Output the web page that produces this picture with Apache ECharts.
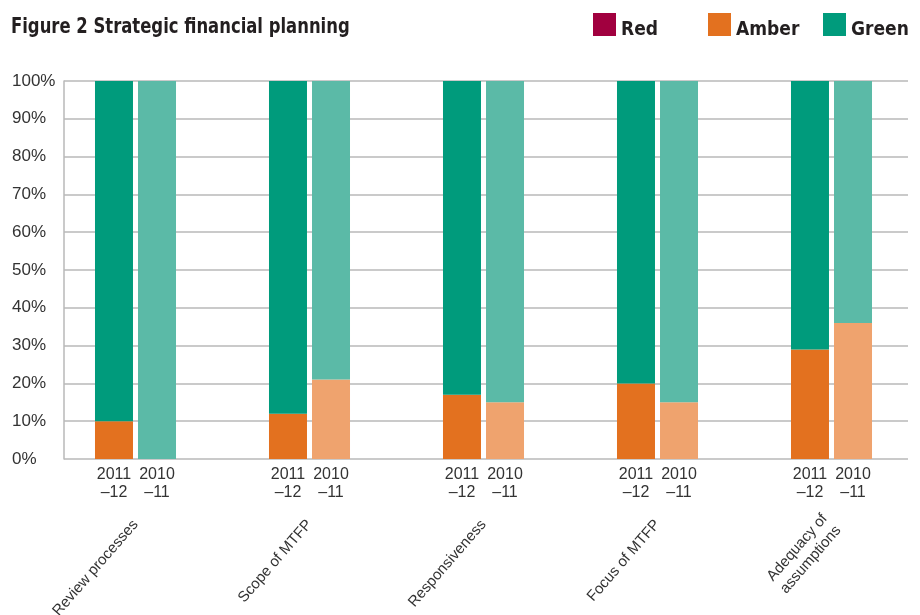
<!DOCTYPE html>
<html><head><meta charset="utf-8">
<script src="https://cdn.jsdelivr.net/npm/echarts@6/dist/echarts.min.js"></script>
<style>html,body{margin:0;padding:0;background:#fff}#c{width:920px;height:615px}</style>
</head><body><div id="c"></div>
<script>
const categories = ['Review processes', 'Scope of MTFP', 'Responsiveness', 'Focus of MTFP', 'Adequacy of\nassumptions'];
const amber2011 = [10, 12, 17, 20, 29];
const green2011 = [90, 88, 83, 80, 71];
const amber2010 = [0, 21, 15, 15, 36];
const green2010 = [100, 79, 85, 85, 64];
const red = [];
const yearTop = ['2011', '2010'];
const yearBottom = ['–12', '–11'];
const yTicks = [0, 10, 20, 30, 40, 50, 60, 70, 80, 90, 100];

const C = {
  red: '#A1003F', amber: '#E3711F', amberLight: '#EFA36E',
  green: '#009B7C', greenLight: '#5BBAA7', grid: '#B8B8B8', text: '#333333', dark: '#231F20'
};
const bodyFont = 'Liberation Sans, Arial, sans-serif';
const headFont = '"Liberation Sans Narrow", "DejaVu Sans Condensed", "Liberation Sans", sans-serif';

const chart = echarts.init(document.getElementById('c'), null, {renderer: 'canvas'});
const bw = 38;
const yearLabel = '{a|' + yearTop[0] + '}{b|' + yearTop[1] + '}\n{a|' + yearBottom[0] + '}{b|' + yearBottom[1] + '}';
const yStyle = {fontSize: 16, fontFamily: bodyFont, color: C.text, width: 43, align: 'center', lineHeight: 18};

function legendAt(left, name) {
  return {
    data: [name], left: left, top: 13, padding: 0, itemWidth: 23, itemHeight: 23, itemGap: 0,
    icon: 'rect', selectedMode: false,
    formatter: n => '{t|' + n + '}',
    textStyle: {fontSize: 19, fontWeight: 'bold', fontFamily: headFont, color: C.dark,
      rich: {t: {fontSize: 19, fontWeight: 'bold', fontFamily: headFont, color: C.dark, padding: [11, 0, 0, 0]}}}
  };
}

chart.setOption({
  animation: false,
  graphic: [{
    type: 'text', left: 11, top: 17, scaleX: 0.87,
    style: {text: 'Figure 2 Strategic financial planning', fontSize: 21, fontWeight: 'bold', fontFamily: headFont, fill: C.dark}
  }],
  legend: [legendAt(593, 'Red'), legendAt(708, 'Amber'), legendAt(823, 'Green')],
  grid: [
    {left: 64, right: 12, top: 81, bottom: 156, outerBoundsMode: 'none', containLabel: false},
    {left: 48.5, width: 870, top: 81, bottom: 156, outerBoundsMode: 'none', containLabel: false}
  ],
  xAxis: [
    {type: 'category', gridIndex: 0, data: categories, axisLine: {show: false}, axisTick: {show: false}, axisLabel: {show: false}},
    {type: 'category', gridIndex: 1, data: categories, axisLine: {show: false}, axisTick: {show: false},
      axisLabel: {margin: 7, formatter: () => yearLabel, rich: {a: yStyle, b: yStyle}}},
    {type: 'category', gridIndex: 1, data: categories, position: 'bottom', axisLine: {show: false}, axisTick: {show: false},
      axisLabel: {rotate: 49, margin: 63, fontSize: 15, lineHeight: 18, fontFamily: bodyFont, color: C.text}}
  ],
  yAxis: [
    {type: 'value', gridIndex: 0, min: 0, max: 100, interval: 10,
      axisLine: {show: true, lineStyle: {color: C.grid, width: 1.5}}, axisTick: {show: false},
      splitLine: {lineStyle: {color: C.grid, width: 1.5}},
      axisLabel: {formatter: v => yTicks.includes(v) ? v + '%' : '', align: 'left', margin: 52, padding: [0, 0, 12, 0],
        fontSize: 17, fontFamily: bodyFont, color: C.text}},
    {type: 'value', gridIndex: 1, min: 0, max: 100, interval: 10, show: false, splitLine: {show: false}}
  ],
  series: [
    {name: 'Red', type: 'bar', xAxisIndex: 0, yAxisIndex: 0, data: red, itemStyle: {color: C.red}},
    {name: 'Amber', type: 'bar', xAxisIndex: 1, yAxisIndex: 1, stack: 's2011', data: amber2011, barWidth: bw, barGap: '13.2%', itemStyle: {color: C.amber}},
    {name: 'Green', type: 'bar', xAxisIndex: 1, yAxisIndex: 1, stack: 's2011', data: green2011, barWidth: bw, barGap: '13.2%', itemStyle: {color: C.green}},
    {name: 'Amber 2010–11', type: 'bar', xAxisIndex: 1, yAxisIndex: 1, stack: 's2010', data: amber2010, barWidth: bw, barGap: '13.2%', itemStyle: {color: C.amberLight}},
    {name: 'Green 2010–11', type: 'bar', xAxisIndex: 1, yAxisIndex: 1, stack: 's2010', data: green2010, barWidth: bw, barGap: '13.2%', itemStyle: {color: C.greenLight}}
  ]
});
</script></body></html>
